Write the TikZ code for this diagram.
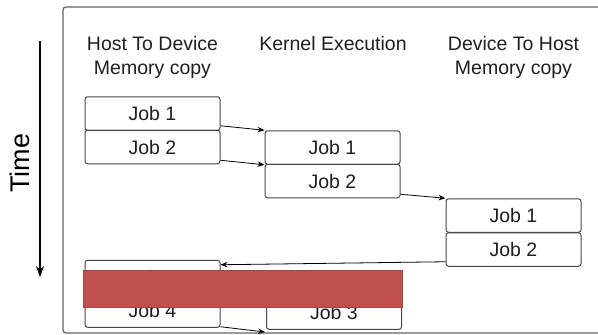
\documentclass[tikz,border=0pt]{standalone}
\usepackage{fontspec}
\setmainfont{Liberation Sans}
\usetikzlibrary{arrows.meta}
\definecolor{linegray}{RGB}{70,70,70}
\definecolor{framegray}{RGB}{100,100,100}
\definecolor{txt}{RGB}{30,30,30}
\definecolor{redbar}{RGB}{192,80,77}
\tikzset{
  jobbox/.style={draw=linegray, line width=1pt, fill=white, rounded corners=2.5pt,
    minimum width=135pt, minimum height=33.5pt, inner sep=0pt,
    text height=14pt, text depth=0pt, text=txt,
    font=\fontsize{19.5}{22}\selectfont},
  header/.style={anchor=base, text=txt, inner sep=0pt, font=\fontsize{19.5}{22}\selectfont},
  flow/.style={draw=black, line width=0.8pt, -{Stealth[length=7pt,width=5.5pt]}}
}
\begin{document}
\begin{tikzpicture}[x=1pt,y=-1pt]
\useasboundingbox (0,0) rectangle (598,335);
% frame
\draw[framegray, line width=1.3pt, rounded corners=3pt] (63,7) rectangle (640,333);
% time axis
\coordinate (tA) at (40,41);
\coordinate (tB) at (40,277);
\draw[black, line width=1.6pt, -{Stealth[length=11pt,width=8pt]}] (tA) -- (tB);
\node[rotate=90, text=black, inner sep=0pt, font=\fontsize{27}{30}\selectfont] (time) at (20,163) {Time};
% headers
\node[header] (h1a) at (152.5,50) {Host To Device};
\node[header] (h1b) at (152.5,74) {Memory copy};
\node[header] (h2a) at (333,50) {Kernel Execution};
\node[header] (h3a) at (513.5,50) {Device To Host};
\node[header] (h3b) at (513.5,74) {Memory copy};
% boxes
\node[jobbox] (c1j1) at (152.5,113.5) {Job 1};
\node[jobbox] (c1j2) at (152.5,147) {Job 2};
\node[jobbox] (c2j1) at (332.5,147.5) {Job 1};
\node[jobbox] (c2j2) at (332.5,181) {Job 2};
\node[jobbox] (c3j1) at (513.5,215.5) {Job 1};
\node[jobbox] (c3j2) at (513.5,249.5) {Job 2};
\node[jobbox] (c1j3) at (152.5,277) {Job 3};
\node[jobbox] (c1j4) at (152.5,310.5) {Job 4};
\node[jobbox] (c2j3) at (334,312.5) {Job 3};
% connectors
\draw[flow] ([yshift=5pt]c1j1.south east) -- (c2j1.north west);
\draw[flow] ([yshift=4pt]c1j2.south east) -- ([yshift=-1pt]c2j2.north west);
\draw[flow] ([yshift=4pt]c2j2.south east) -- (c3j1.north west);
\draw[flow] ([yshift=5pt]c3j2.south west) -- ([yshift=-5pt]c1j3.north east);
\coordinate (c2j4) at (265,332);
\draw[flow] ([yshift=1pt]c1j4.south east) -- (c2j4);
% red bar
\node[fill=redbar, draw=redbar!85!black, line width=0.4pt, minimum width=319pt, minimum height=37pt, inner sep=0pt, anchor=north west] (redbar) at (83,270) {};
\end{tikzpicture}
\end{document}
